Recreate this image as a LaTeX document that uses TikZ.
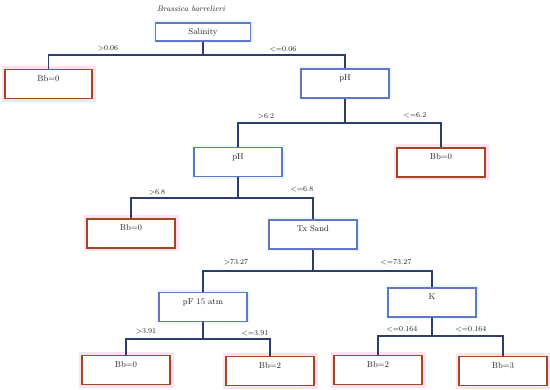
\documentclass[tikz,border=0pt]{standalone}
\usetikzlibrary{positioning}
\definecolor{bluebox}{HTML}{6676C6}
\definecolor{redbox}{HTML}{A4461E}
\definecolor{linkcol}{HTML}{2E3E6C}
\definecolor{pinkhalo}{HTML}{FCE2F2}
\definecolor{cyanhalo}{HTML}{E8FAFC}
\definecolor{textcol}{HTML}{222222}
\tikzset{
  basebox/.style={rectangle, minimum width=88pt, minimum height=29pt,
    inner xsep=2pt, inner ysep=4pt, text height=8pt, text depth=13pt,
    fill=white, text=textcol, font=\fontsize{8.5}{10}\selectfont},
  bluenode/.style={basebox, draw=bluebox, line width=1.4pt,
    preaction={draw=cyanhalo, line width=5pt}},
  leafnode/.style={basebox, draw=redbox, line width=1.6pt,
    preaction={draw=pinkhalo, line width=7pt}},
  link/.style={draw=linkcol, line width=1.1pt},
  cond/.style={font=\fontsize{7.5}{9}\selectfont, text=textcol, inner sep=0pt},
}
\begin{document}
\begin{tikzpicture}[x=1pt, y=-1pt]
\useasboundingbox (0,0) rectangle (550,390);
\node[font=\fontsize{8}{9.6}\selectfont\itshape, text=textcol, inner sep=0pt] (title) at (191,9) {Brassica barrelieri};

\node[bluenode, minimum width=95pt, minimum height=18pt, text depth=2pt] (sal) at (203,32) {Salinity};
\node[leafnode, minimum width=87pt, minimum height=28pt] (bb1) at (48.5,84) {Bb=0};
\node[bluenode] (ph1) at (345,83.5) {pH};
\node[bluenode] (ph2) at (238,162) {pH};
\node[leafnode] (bb2) at (441,162.5) {Bb=0};
\node[leafnode] (bb3) at (131,233.5) {Bb=0};
\node[bluenode] (tx) at (313,234.5) {Tx Sand};
\node[bluenode] (pf) at (203,307) {pF 15 atm};
\node[bluenode] (k) at (432,302.5) {K};
\node[leafnode, minimum height=28pt] (bb4) at (126,370) {Bb=0};
\node[leafnode, minimum height=28pt] (bb5) at (270,371) {Bb=2};
\node[leafnode, minimum height=28pt] (bb6) at (378,370) {Bb=2};
\node[leafnode, minimum height=28pt] (bb7) at (503,371) {Bb=3};

\coordinate (j1) at (203,55);
\coordinate (j2) at (345,123);
\coordinate (j3) at (238,198);
\coordinate (j4) at (313,271);
\coordinate (j5) at (203,339);
\coordinate (j6) at (432,336);

\draw[link] (sal.south) -- (j1) -| (bb1.north);
\draw[link] (j1) -| (ph1.north);
\draw[link] (ph1.south) -- (j2) -| (ph2.north);
\draw[link] (j2) -| (bb2.north);
\draw[link] (ph2.south) -- (j3) -| (bb3.north);
\draw[link] (j3) -| (tx.north);
\draw[link] (tx.south) -- (j4) -| (pf.north);
\draw[link] (j4) -| (k.north);
\draw[link] (pf.south) -- (j5) -| (bb4.north);
\draw[link] (j5) -| (bb5.north);
\draw[link] (k.south) -- (j6) -| (bb6.north);
\draw[link] (j6) -| (bb7.north);

\node[cond] (c1) at (108,48) {>0.06};
\node[cond] (c2) at (283,49) {<=0.06};
\node[cond] (c3) at (266,116) {>6.2};
\node[cond] (c4) at (415,115) {<=6.2};
\node[cond] (c5) at (157,192) {>6.8};
\node[cond] (c6) at (302,189) {<=6.8};
\node[cond] (c7) at (236,262) {>73.27};
\node[cond] (c8) at (396,262) {<=73.27};
\node[cond] (c9) at (146,331) {>3.91};
\node[cond] (c10) at (255,333) {<=3.91};
\node[cond] (c11) at (402,329) {<=0.164};
\node[cond] (c12) at (471,329) {<=0.164};
\end{tikzpicture}
\end{document}
